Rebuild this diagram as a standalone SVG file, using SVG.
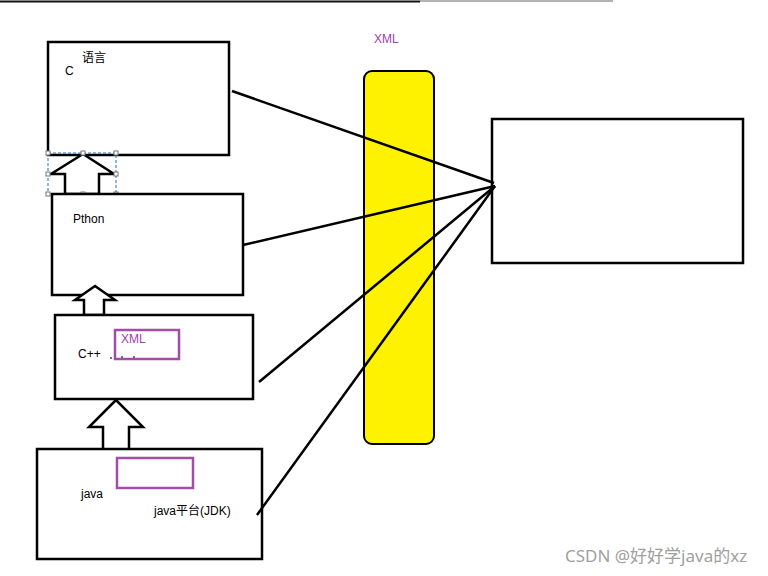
<svg xmlns="http://www.w3.org/2000/svg" width="768" height="576" viewBox="0 0 768 576">
<style>
.box{fill:#fff;stroke:#000;stroke-width:2.5}
.arr{fill:#fff;stroke:#000;stroke-width:2.5;stroke-linejoin:miter}
.pbox{fill:none;stroke:#a24ea8;stroke-width:2.5}
.t{font-family:"Liberation Sans","Noto Sans CJK SC",sans-serif;font-size:12px;fill:#000}
.px{font-family:"Liberation Sans",sans-serif;font-size:12px;fill:#a040a8}
.ln{stroke:#000;stroke-width:2.5;fill:none}
.h{fill:#fff;stroke:#777;stroke-width:1}
</style>
<rect width="768" height="576" fill="#fff"/>
<g id="topline">
<line x1="0" y1="1.5" x2="420" y2="1.5" stroke="#111" stroke-width="2"/>
<line x1="420" y1="1" x2="613" y2="1" stroke="#999" stroke-width="1.5"/>
</g>
<g id="node-c">
<rect class="box" x="48" y="42" width="181" height="113"/>
<text class="t" x="82" y="62">语言</text>
<text class="t" x="65" y="75">C</text>
</g>
<g id="arrow-1">
<polygon class="arr" points="83,154 51,174 65,174 65,194 99,194 99,174 114,174"/>
<rect x="48" y="153" width="68" height="41" fill="none" stroke="#1a6fc4" stroke-width="1" stroke-dasharray="3,2"/>
<rect class="h" x="46" y="151" width="4" height="4"/>
<rect class="h" x="81" y="151" width="4" height="4"/>
<rect class="h" x="114" y="151" width="4" height="4"/>
<rect class="h" x="46" y="172" width="4" height="4"/>
<rect class="h" x="114" y="172" width="4" height="4"/>
<rect class="h" x="46" y="192" width="4" height="4"/>
<rect class="h" x="81" y="192" width="4" height="4"/>
<rect class="h" x="114" y="192" width="4" height="4"/>
</g>
<g id="node-python">
<rect class="box" x="52" y="194" width="191" height="101"/>
<text class="t" x="73" y="223">Pthon</text>
</g>
<g id="arrow-2">
<polygon class="arr" points="95,286 75,300 84,300 84,315 104,315 104,300 115,300"/>
</g>
<g id="node-cpp">
<rect class="box" x="55" y="315" width="198" height="84"/>
<text class="t" x="78" y="358">C++</text>
<rect class="pbox" x="115" y="330" width="64" height="29"/>
<text class="px" x="121" y="343">XML</text>
<circle cx="111" cy="358" r="0.9" fill="#333"/>
<circle cx="122" cy="357" r="0.9" fill="#333"/>
<circle cx="134" cy="357" r="0.9" fill="#333"/>
</g>
<g id="arrow-3">
<polygon class="arr" points="116,400 89,427 103,427 103,450 129,450 129,427 143,427"/>
</g>
<g id="node-java">
<rect class="box" x="37" y="449" width="225" height="110"/>
<rect class="pbox" x="117" y="458" width="76" height="30"/>
<text class="t" x="81" y="498">java</text>
<text class="t" x="154" y="515">java平台(JDK)</text>
</g>
<g id="node-xml">
<text class="px" x="374" y="43">XML</text>
<rect x="364" y="71" width="70" height="373" rx="8" fill="#fff200" stroke="#000" stroke-width="2"/>
</g>
<g id="node-target">
<rect class="box" x="492" y="119" width="251" height="144"/>
</g>
<g id="connectors">
<line class="ln" x1="232" y1="91" x2="494" y2="183"/>
<line class="ln" x1="243" y1="245" x2="495" y2="186"/>
<line class="ln" x1="259" y1="382" x2="495" y2="186"/>
<line class="ln" x1="257" y1="515" x2="495" y2="186"/>
</g>
<text x="565" y="562" font-family="'Noto Sans','Noto Sans CJK SC',sans-serif" font-size="17" fill="#a0a0a0">CSDN @好好学java的xz</text>
</svg>
